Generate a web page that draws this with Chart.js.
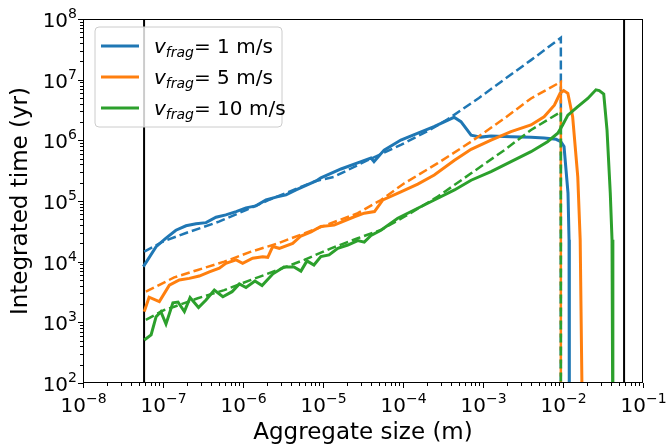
<!DOCTYPE html>
<html>
<head>
<meta charset="utf-8">
<script src="https://cdn.jsdelivr.net/npm/chart.js@4/dist/chart.umd.min.js"></script>
<style>
  html, body { margin: 0; padding: 0; background: #fff; }
  canvas { display: block; }
</style>
</head>
<body>
<canvas id="myChart" width="666" height="444"></canvas>
<script>
// fragmentation velocities (m/s), one run each
const fragVelocities = [1, 5, 10];
const colors = ['#1f77b4', '#ff7f0e', '#2ca02c'];

// solid curves: aggregate size (m) vs integrated time (yr)
const blueSizes = [5.68e-8, 8.2e-8, 1.09e-7, 1.45e-7, 1.94e-7, 2.59e-7, 3.45e-7, 4.6e-7, 6.1e-7, 8.2e-7,
  1.09e-6, 1.45e-6, 1.94e-6, 2.59e-6, 3.45e-6, 4.6e-6, 8.2e-6, 9.4e-6, 1.68e-5, 2.99e-5, 3.98e-5, 4.34e-5,
  5.8e-5, 9.4e-5, 1.54e-4, 2.44e-4, 3.65e-4, 4.34e-4, 5.3e-4, 7.1e-4, 9.4e-4, 1.26e-3, 2.24e-3, 3.98e-3,
  5.8e-3, 8.2e-3, 9.4e-3, 1.03e-2, 1.155e-2, 1.19e-2, 1.2e-2];
const blueTimes = [8.3e3, 1.77e4, 2.45e4, 3.3e4, 3.9e4, 4.2e4, 4.4e4, 5.4e4, 5.9e4, 6.7e4,
  7.7e4, 8.3e4, 1.04e5, 1.16e5, 1.26e5, 1.52e5, 2.14e5, 2.4e5, 3.37e5, 4.45e5, 5.1e5, 4.45e5,
  6.9e5, 1.01e6, 1.32e6, 1.68e6, 2.16e6, 2.4e6, 2.03e6, 1.22e6, 1.13e6, 1.18e6, 1.15e6, 1.12e6,
  1.09e6, 1.04e6, 9.5e5, 7.9e5, 1.35e5, 2.3e4, 10];

const orangeSizes = [5.83e-8, 6.7e-8, 9.0e-8, 1.2e-7, 1.6e-7, 2.13e-7, 2.84e-7, 3.8e-7, 5.06e-7, 6.1e-7,
  8.2e-7, 9.9e-7, 1.32e-6, 1.76e-6, 2.04e-6, 2.35e-6, 2.84e-6, 4.18e-6, 5.3e-6, 7.1e-6, 9.4e-6, 1.38e-5,
  2.46e-5, 3.28e-5, 4.4e-5, 5.6e-5, 9.4e-5, 1.53e-4, 2.46e-4, 4.4e-4, 7.1e-4, 1.26e-3, 2.24e-3, 3.98e-3,
  5.8e-3, 7.8e-3, 9.2e-3, 1.02e-2, 1.15e-2, 1.32e-2, 1.53e-2, 1.64e-2, 1.76e-2];
const orangeTimes = [1.5e3, 2.6e3, 2.2e3, 4.1e3, 5.0e3, 5.3e3, 5.8e3, 6.8e3, 7.8e3, 9.4e3,
  1.07e4, 9.4e3, 1.14e4, 1.21e4, 1.18e4, 1.77e4, 1.66e4, 2.0e4, 2.65e4, 3.1e4, 3.8e4, 4.0e4,
  5.5e4, 6.3e4, 6.7e4, 1.04e5, 1.42e5, 1.9e5, 2.68e5, 4.7e5, 7.1e5, 1.01e6, 1.39e6, 1.79e6,
  2.45e6, 3.8e6, 5.96e6, 6.6e6, 5.96e6, 2.45e6, 2.5e5, 2.3e4, 10];

const greenSizes = [5.83e-8, 7.1e-8, 8.2e-8, 9.4e-8, 1.09e-7, 1.33e-7, 1.54e-7, 1.85e-7, 2.18e-7, 2.78e-7,
  3.45e-7, 4.38e-7, 5.6e-7, 7.3e-7, 9.0e-7, 1.09e-6, 1.41e-6, 1.73e-6, 2.37e-6, 3.25e-6, 4.34e-6, 5.3e-6,
  6.3e-6, 7.7e-6, 9.4e-6, 1.19e-5, 1.53e-5, 2.04e-5, 2.72e-5, 3.28e-5, 3.98e-5, 5.3e-5, 8.6e-5, 1.38e-4,
  2.46e-4, 4.4e-4, 7.1e-4, 1.26e-3, 2.24e-3, 3.98e-3, 6.4e-3, 8.6e-3, 9.9e-3, 1.15e-2, 1.53e-2, 2.04e-2,
  2.58e-2, 2.84e-2, 3.23e-2, 3.55e-2, 3.9e-2, 4.1e-2, 4.2e-2];
const greenTimes = [5.1e2, 6.2e2, 1.24e3, 1.5e3, 9.4e2, 2.1e3, 2.16e3, 1.5e3, 2.56e3, 1.75e3,
  2.33e3, 3.4e3, 2.64e3, 3.2e3, 4.3e3, 3.75e3, 4.8e3, 4.05e3, 6.3e3, 8.2e3, 8.2e3, 7.0e3,
  1.03e4, 8.8e3, 1.21e4, 1.29e4, 1.66e4, 1.88e4, 2.23e4, 2.1e4, 2.7e4, 3.3e4, 5.2e4, 7.1e4,
  1.04e5, 1.52e5, 2.2e5, 3.04e5, 4.45e5, 6.5e5, 9.5e5, 1.31e6, 1.79e6, 2.6e6, 3.6e6, 4.9e6,
  6.8e6, 6.6e6, 5.8e6, 1.48e6, 1.34e5, 2.3e4, 10];

// dashed estimates, cut at the fragmentation size
const blueFitSizes = [5.83e-8, 9.9e-8, 1.45e-7, 1.94e-7, 5.0e-7, 1.09e-6, 2.11e-6, 4.6e-6, 8.2e-6, 1.37e-5,
  3.62e-5, 9.4e-5, 2.05e-4, 3.65e-4, 8.9e-4, 1.83e-3, 3.98e-3, 9.4e-3, 9.4e-3];
const blueFitTimes = [1.46e4, 2.13e4, 2.58e4, 2.97e4, 4.56e4, 7.1e4, 1.04e5, 1.58e5, 2.14e5, 2.5e5,
  4.7e5, 8.4e5, 1.43e6, 2.24e6, 5.0e6, 1.0e7, 2.1e7, 4.9e7, 10];

const orangeFitSizes = [6.1e-8, 1.38e-7, 2.72e-7, 5.83e-7, 1.26e-6, 2.72e-6, 5.83e-6, 1.26e-5, 2.72e-5,
  5.3e-5, 1.04e-4, 2.72e-4, 7.1e-4, 1.85e-3, 3.98e-3, 9.4e-3, 9.4e-3];
const orangeFitTimes = [3.2e3, 5.5e3, 7.3e3, 1.0e4, 1.46e4, 2.0e4, 2.93e4, 4.3e4, 6.3e4,
  1.04e5, 1.96e5, 4.2e5, 9.5e5, 2.3e6, 4.9e6, 9.2e6, 10];

const greenFitSizes = [6.1e-8, 1.04e-7, 1.38e-7, 2.72e-7, 5.83e-7, 1.26e-6, 2.72e-6, 5.83e-6, 1.26e-5,
  2.72e-5, 5.3e-5, 1.04e-4, 2.72e-4, 7.1e-4, 1.85e-3, 3.98e-3, 9.4e-3, 9.4e-3];
const greenFitTimes = [1.1e3, 1.6e3, 1.81e3, 2.49e3, 3.4e3, 5.0e3, 7.3e3, 1.07e4, 1.66e4,
  2.43e4, 3.33e4, 5.5e4, 1.18e5, 2.86e5, 6.9e5, 1.48e6, 2.95e6, 10];

// black vertical limits
const limitSizes = [5.8e-8, 5.8e-2];
const limitTimes = [1, 1e9];

// axis decades
const xExponents = [-8, -7, -6, -5, -4, -3, -2, -1];
const yExponents = [2, 3, 4, 5, 6, 7, 8];

const zip = (xs, ys) => xs.map((x, i) => ({ x: x, y: ys[i] })).filter(p => p.y !== undefined);

const solidSets = [[blueSizes, blueTimes], [orangeSizes, orangeTimes], [greenSizes, greenTimes]];
const fitSets = [[blueFitSizes, blueFitTimes], [orangeFitSizes, orangeFitTimes], [greenFitSizes, greenFitTimes]];

const datasets = [];
limitSizes.forEach(s => {
  datasets.push({ data: zip([s, s], limitTimes), borderColor: '#000', borderWidth: 2 });
});
fragVelocities.forEach((v, i) => {
  datasets.push({
    label: 'v_frag= ' + v + ' m/s', legend: true,
    data: zip(solidSets[i][0], solidSets[i][1]),
    borderColor: colors[i], borderWidth: 3
  });
  datasets.push({
    data: zip(fitSets[i][0], fitSets[i][1]),
    borderColor: colors[i], borderWidth: 2.5, borderDash: [9, 4]
  });
});
datasets.forEach((d, i) => {
  d.order = 100 - i;
  d.pointRadius = 0;
  d.tension = 0;
  d.fill = false;
});

const FONT = '"DejaVu Sans", sans-serif';

function drawPower(ctx, exp, x, y, align) {
  const base = '10';
  const sup = String(exp).replace('-', '\u2212');
  ctx.font = '20px ' + FONT;
  const w1 = ctx.measureText(base).width;
  ctx.font = '14px ' + FONT;
  const w2 = ctx.measureText(sup).width;
  const total = w1 + w2;
  let start = align === 'right' ? x - total : x - total / 2;
  ctx.textAlign = 'left';
  ctx.textBaseline = 'alphabetic';
  ctx.font = '20px ' + FONT;
  ctx.fillText(base, start, y);
  ctx.font = '14px ' + FONT;
  ctx.fillText(sup, start + w1, y - 9);
}

const frame = {
  id: 'frame',
  afterDraw(chart) {
    const { ctx, chartArea: a } = chart;
    const xs = chart.scales.x, ys = chart.scales.y;
    ctx.save();
    ctx.fillStyle = '#000';
    ctx.strokeStyle = '#000';
    ctx.lineWidth = 1;

    // ticks on x
    xExponents.forEach(e => {
      const px = Math.round(xs.getPixelForValue(Math.pow(10, e))) + 0.5;
      ctx.beginPath(); ctx.moveTo(px, a.bottom); ctx.lineTo(px, a.bottom + 5); ctx.stroke();
      if (e < -1) {
        for (let m = 2; m < 10; m++) {
          const mx = Math.round(xs.getPixelForValue(m * Math.pow(10, e))) + 0.5;
          ctx.beginPath(); ctx.moveTo(mx, a.bottom); ctx.lineTo(mx, a.bottom + 3); ctx.stroke();
        }
      }
      drawPower(ctx, e, px, a.bottom + 29, 'center');
    });
    // ticks on y
    yExponents.forEach(e => {
      const py = Math.round(ys.getPixelForValue(Math.pow(10, e))) + 0.5;
      ctx.beginPath(); ctx.moveTo(a.left, py); ctx.lineTo(a.left - 5, py); ctx.stroke();
      if (e < 8) {
        for (let m = 2; m < 10; m++) {
          const my = Math.round(ys.getPixelForValue(m * Math.pow(10, e))) + 0.5;
          ctx.beginPath(); ctx.moveTo(a.left, my); ctx.lineTo(a.left - 3, my); ctx.stroke();
        }
      }
      drawPower(ctx, e, a.left - 6, py + 7, 'right');
    });

    // spines
    ctx.strokeRect(a.left + 0.5, a.top + 0.5, a.right - a.left - 1, a.bottom - a.top - 1);

    // axis titles
    ctx.font = '23px ' + FONT;
    ctx.textAlign = 'center';
    ctx.textBaseline = 'alphabetic';
    ctx.fillText('Aggregate size (m)', (a.left + a.right) / 2, 439);
    ctx.save();
    ctx.translate(27, (a.top + a.bottom) / 2);
    ctx.rotate(-Math.PI / 2);
    ctx.fillText('Integrated time (yr)', 0, 0);
    ctx.restore();

    // legend
    const bx = a.left + 12, by = a.top + 8, bw = 187, bh = 100, r = 4;
    ctx.beginPath();
    ctx.moveTo(bx + r, by);
    ctx.arcTo(bx + bw, by, bx + bw, by + bh, r);
    ctx.arcTo(bx + bw, by + bh, bx, by + bh, r);
    ctx.arcTo(bx, by + bh, bx, by, r);
    ctx.arcTo(bx, by, bx + bw, by, r);
    ctx.closePath();
    ctx.fillStyle = 'rgba(255,255,255,0.8)';
    ctx.fill();
    ctx.strokeStyle = '#cccccc';
    ctx.stroke();

    const items = chart.data.datasets.filter(d => d.legend);
    items.forEach((d, i) => {
      const cy = by + 19 + i * 31;
      ctx.strokeStyle = d.borderColor;
      ctx.lineWidth = 3;
      ctx.beginPath(); ctx.moveTo(bx + 6, cy); ctx.lineTo(bx + 44, cy); ctx.stroke();
      const parts = d.label.split('_frag');
      const rest = d.label.slice(d.label.indexOf('='));
      let tx = bx + 59;
      ctx.fillStyle = '#000';
      ctx.textAlign = 'left';
      ctx.font = 'italic 20px ' + FONT;
      ctx.fillText(parts[0], tx, cy + 7);
      tx += ctx.measureText(parts[0]).width;
      ctx.font = 'italic 14px ' + FONT;
      ctx.fillText('frag', tx, cy + 11);
      tx += ctx.measureText('frag').width;
      ctx.font = '20px ' + FONT;
      ctx.fillText(rest, tx, cy + 7);
    });
    ctx.restore();
  }
};

const chart = new Chart(document.getElementById('myChart'), {
  type: 'line',
  data: { datasets: datasets },
  options: {
    responsive: false,
    animation: false,
    devicePixelRatio: 1,
    layout: { padding: { left: 83, right: 23, top: 19, bottom: 61 } },
    scales: {
      x: { type: 'logarithmic', min: 1e-8, max: 1e-1, display: false },
      y: { type: 'logarithmic', min: 1e2, max: 1e8, display: false }
    },
    plugins: { legend: { display: false }, tooltip: { enabled: false } }
  },
  plugins: [frame]
});
</script>
</body>
</html>
